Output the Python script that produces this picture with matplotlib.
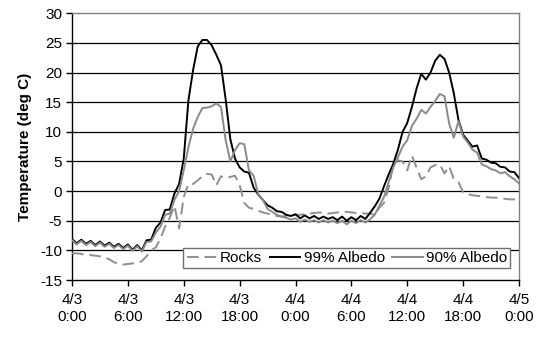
import matplotlib
matplotlib.use("Agg")
import matplotlib.pyplot as plt
import numpy as np

plt.rcParams['font.family'] = ['Liberation Sans', 'DejaVu Sans']

# Half-hourly readings, 4/3 0:00 through 4/5 0:00
hours = np.arange(0, 48.5, 0.5)

rocks = [
    -10.5, -10.5, -10.6, -10.8, -10.8, -10.9, -11.0, -11.2, -11.5, -12.0, -12.3, -12.4, -12.3, -12.2, -12.2, -11.8, -11.0,
    -10.0, -9.5, -8.0, -6.0, -4.5, -2.5, -6.3, -1.0, 1.2, 1.2, 1.8, 2.5, 2.9, 2.8, 1.0, 2.5,
    2.2, 2.4, 2.6, 1.0, -2.0, -2.8, -3.0, -3.3, -3.6, -3.8, -4.0, -4.2, -4.3, -4.2, -4.2, -4.0,
    -4.0, -3.9, -3.8, -3.7, -3.6, -3.7, -3.8, -3.7, -3.6, -3.5, -3.5, -3.6, -3.7, -3.7, -3.8, -3.8,
    -4.0, -2.8, -2.0, 0.5, 4.5, 5.2, 5.0, 3.5, 6.0, 4.0, 2.0, 2.5, 4.0, 4.4, 4.5, 3.0,
    4.2, 2.0, 1.5, -0.2, -0.5, -0.7, -0.8, -0.9, -1.0, -1.1, -1.1, -1.2, -1.3, -1.4, -1.4, -1.5,
]

albedo_99 = [
    -8.1, -8.8, -8.2, -8.9, -8.4, -9.1, -8.5, -9.2, -8.7, -9.4, -8.9, -9.6, -9.0, -9.9, -9.1, -10.0, -8.3,
    -8.2, -6.2, -5.3, -3.2, -3.1, -0.4, 1.2, 5.5, 15.3, 20.4, 24.4, 25.5, 25.5, 24.6, 23.0, 21.2,
    15.5, 8.8, 5.5, 4.0, 3.3, 3.1, 0.6, -0.6, -1.5, -2.4, -2.8, -3.4, -3.5, -4.0, -4.2, -3.9,
    -4.6, -4.1, -4.6, -4.2, -4.7, -4.3, -4.7, -4.4, -4.9, -4.3, -5.0, -4.4, -4.9, -4.2, -4.7, -3.7,
    -2.6, -1.3, 0.8, 2.8, 4.6, 7.0, 10.0, 11.5, 14.2, 17.3, 19.8, 18.8, 20.0, 22.0, 23.0, 22.3,
    20.0, 16.5, 12.0, 9.5, 8.5, 7.5, 7.7, 5.5, 5.3, 4.8, 4.7, 4.1, 4.0, 3.3, 3.2, 2.2,
]

albedo_90 = [
    -8.3, -9.0, -8.4, -9.1, -8.6, -9.3, -8.7, -9.4, -8.9, -9.6, -9.1, -9.8, -9.2, -10.1, -9.3, -10.2, -8.6,
    -8.5, -7.0, -6.0, -4.0, -3.8, -1.5, 0.0, 3.5, 7.4, 10.5, 12.5, 14.0, 14.1, 14.3, 14.8, 14.2,
    8.6, 5.0, 6.9, 8.1, 7.9, 3.5, 2.6, -0.5, -1.5, -3.0, -3.5, -4.0, -4.3, -4.5, -4.8, -4.6,
    -5.2, -4.8, -5.2, -4.9, -5.3, -4.9, -5.3, -5.0, -5.4, -5.0, -5.6, -5.0, -5.4, -4.9, -5.3, -4.8,
    -4.0, -2.5, -1.0, 1.5, 4.0, 5.7, 7.5, 8.6, 11.0, 12.2, 13.7, 13.1, 14.2, 15.2, 16.4, 16.0,
    11.4, 9.0, 11.8, 9.2, 8.2, 7.0, 6.5, 4.5, 4.2, 3.7, 3.5, 3.0, 3.2, 2.5, 2.0, 1.3,
]

tick_hours = [0, 6, 12, 18, 24, 30, 36, 42, 48]
tick_labels = ["4/3\n0:00", "4/3\n6:00", "4/3\n12:00", "4/3\n18:00",
               "4/4\n0:00", "4/4\n6:00", "4/4\n12:00", "4/4\n18:00", "4/5\n0:00"]
y_ticks = list(range(-15, 31, 5))

FS = 11

fig = plt.figure(figsize=(5.45, 3.43), dpi=100)
ax = fig.add_axes([72 / 545, 1 - 280 / 343, (519 - 72) / 545, (280 - 13.3) / 343])

ax.plot(hours, rocks, color="#8f8f8f", lw=1.4, dashes=(6, 3), label="Rocks", zorder=3)
ax.plot(hours, albedo_99, color="#000000", lw=1.4, label="99% Albedo", zorder=4)
ax.plot(hours, albedo_90, color="#8a8a8a", lw=1.4, label="90% Albedo", zorder=5)

ax.set_xlim(0, 48)
ax.set_ylim(-15, 30)
ax.set_xticks(tick_hours)
ax.set_xticklabels(tick_labels, fontsize=FS, linespacing=1.3)
ax.set_yticks(y_ticks)
ax.set_yticklabels([str(v) for v in y_ticks], fontsize=FS)
ax.tick_params(axis="both", direction="out", length=4, width=1, color="black", pad=3)
ax.tick_params(axis="x", pad=5)

for v in y_ticks[1:-1]:
    ax.axhline(v, color="#000000", lw=0.9, zorder=1)

ax.spines["left"].set_color("black")
ax.spines["bottom"].set_color("black")
ax.spines["top"].set_color("#808080")
ax.spines["right"].set_color("#808080")
for s in ax.spines.values():
    s.set_linewidth(1.0)

ax.set_ylabel("Temperature (deg C)", fontsize=FS, fontweight="bold", labelpad=6)

leg = ax.legend(loc="lower right", bbox_to_anchor=(0.98, 0.045), ncol=3, fontsize=FS,
                frameon=True, fancybox=False, framealpha=1, edgecolor="#707070",
                handlelength=2.0, handletextpad=0.2, columnspacing=0.5,
                borderpad=0.2, borderaxespad=0)
leg.get_frame().set_linewidth(1.0)
leg.set_zorder(10)

fig.savefig("out.png", dpi=100)
